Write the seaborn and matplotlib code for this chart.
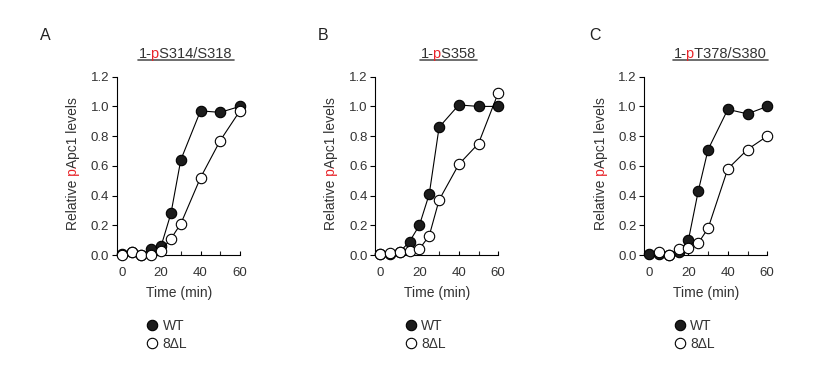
import numpy as np
import matplotlib
matplotlib.use("Agg")
import matplotlib.pyplot as plt
from matplotlib.lines import Line2D
from matplotlib.transforms import IdentityTransform, Bbox
import seaborn as sns

# time points (min)
time = [0, 5, 10, 15, 20, 25, 30, 40, 50, 60]

# panel A: 1-pS314/S318
wt_a = [0.01, 0.02, 0.00, 0.04, 0.06, 0.28, 0.64, 0.97, 0.96, 1.00]
dl_a = [0.00, 0.02, 0.00, 0.00, 0.03, 0.11, 0.21, 0.52, 0.77, 0.97]
# panel B: 1-pS358
wt_b = [0.01, 0.01, 0.02, 0.09, 0.20, 0.41, 0.86, 1.01, 1.00, 1.00]
dl_b = [0.01, 0.015, 0.02, 0.03, 0.04, 0.13, 0.37, 0.61, 0.75, 1.09]
# panel C: 1-pT378/S380
wt_c = [0.01, 0.01, 0.00, 0.02, 0.10, 0.43, 0.71, 0.98, 0.95, 1.00]
dl_c = [np.nan, 0.02, 0.00, 0.04, 0.05, 0.08, 0.18, 0.58, 0.71, 0.80]

letters = ["A", "B", "C"]
sites = ["S314/S318", "S358", "T378/S380"]
series_labels = ["WT", "8\u0394L"]

sns.set_style("ticks")
plt.rcParams["font.family"] = ["Liberation Sans", "DejaVu Sans"]

W, H = 821, 366
fig = plt.figure(figsize=(W / 100, H / 100), dpi=100)
renderer = fig.canvas.get_renderer()

TXT = "#333333"
RED = "#e8262b"
MS = 7.5
BIG = 10000


def ink_len(s, size, vertical):
    t = fig.text(0, 0, s, fontsize=size, transform=IdentityTransform(),
                 rotation=90 if vertical else 0, rotation_mode="anchor", ha="left")
    e = t.get_window_extent(renderer)
    t.remove()
    return e.height if vertical else e.width


def red_p_text(cx, cy, pre, red, post, size, vertical=False):
    # full string drawn three times, each copy clipped to its own colour zone
    full = pre + red + post
    total = ink_len(full, size, vertical)
    if vertical:
        a = ink_len(pre.rstrip(), size, vertical) + 0.7
        b = ink_len(pre + red, size, vertical) + 0.4
    else:
        a = ink_len(pre.rstrip(), size, vertical) - 0.9
        b = ink_len(pre + red, size, vertical) - 0.7
    centre = cy if vertical else cx
    start = round(centre - total / 2)
    zones = [(-BIG, start + a, TXT), (start + a, start + b, RED), (start + b, BIG, TXT)]
    for lo, hi, col in zones:
        if vertical:
            t = fig.text(cx, start, full, fontsize=size, color=col, rotation=90,
                         rotation_mode="anchor", ha="left", va="center",
                         transform=IdentityTransform())
            box = Bbox.from_extents(-BIG, lo, BIG, hi)
        else:
            t = fig.text(start, cy, full, fontsize=size, color=col, ha="left",
                         va="baseline", transform=IdentityTransform())
            box = Bbox.from_extents(lo, -BIG, hi, BIG)
        t.set_clip_box(box)
        t.set_clip_on(True)
    return start, start + total


x0_px = [121.7, 380.0, 649.0]
title_cx = [186, 449, 720]
letter_x = [45, 323, 595]
px_per_min = 1.97
y0_px, ytop_px = 255, 76.7

data = [(wt_a, dl_a), (wt_b, dl_b), (wt_c, dl_c)]

for i in range(3):
    left = x0_px[i] - 2.5 * px_per_min
    width = 63.5 * px_per_min
    ax = fig.add_axes([left / W, (H - y0_px) / H, width / W, (y0_px - ytop_px) / H])
    wt, dl = data[i]
    sns.lineplot(x=time, y=wt, ax=ax, color="black", linewidth=0.8, marker="o",
                 markersize=MS, markerfacecolor="#1c1c1c", markeredgecolor="black",
                 markeredgewidth=0.8, clip_on=False, zorder=3)
    sns.lineplot(x=time, y=dl, ax=ax, color="black", linewidth=0.8, marker="o",
                 markersize=MS, markerfacecolor="white", markeredgecolor="black",
                 markeredgewidth=0.8, clip_on=False, zorder=4)
    ax.set_xlim(-2.5, 61)
    ax.set_ylim(0, 1.2)
    ax.set_xticks([0, 20, 40, 60])
    ax.set_xticks([10, 30, 50], minor=True)
    ax.set_yticks(np.arange(0, 1.21, 0.2))
    ax.set_yticklabels([f"{v:.1f}" for v in np.arange(0, 1.21, 0.2)])
    ax.tick_params(axis="x", direction="in", length=3, width=0.8, labelsize=9.5,
                   colors="black", labelcolor=TXT, pad=9)
    ax.tick_params(axis="x", which="minor", direction="in", length=3, width=0.8)
    ax.tick_params(axis="y", direction="out", length=3.5, width=0.8, labelsize=9.5,
                   colors="black", labelcolor=TXT, pad=2)
    for s in ["top", "right"]:
        ax.spines[s].set_visible(False)
    ax.spines["left"].set_linewidth(0.8)
    ax.spines["bottom"].set_linewidth(0.8)
    ax.spines["bottom"].set_bounds(-2.5, 60)
    ax.spines["left"].set_color("black")
    ax.spines["bottom"].set_color("black")
    ax.set_xlabel("Time (min)", fontsize=10, color=TXT, labelpad=5)
    ax.set_ylabel("")
    ax.set_facecolor("none")

    # y label with red "p"
    red_p_text(x0_px[i] - 48.5, H - 164, "Relative ", "p", "Apc1 levels", 10,
               vertical=True)
    # underlined title
    a, b = red_p_text(title_cx[i], H - 58, "1-", "p", sites[i], 10.5)
    fig.add_artist(Line2D([a - 1, b + 1], [H - 59.5, H - 59.5], color="#555555",
                          linewidth=1.2, transform=IdentityTransform()))
    # panel letter
    fig.text(letter_x[i], H - 35, letters[i], fontsize=11.5, color="#222222",
             ha="center", va="center", transform=IdentityTransform())

    handles = [
        Line2D([], [], linestyle="none", marker="o", markersize=MS,
               markerfacecolor="#1c1c1c", markeredgecolor="black", markeredgewidth=0.8),
        Line2D([], [], linestyle="none", marker="o", markersize=MS,
               markerfacecolor="white", markeredgecolor="black", markeredgewidth=0.8),
    ]
    fig.legend(handles, series_labels, loc="upper left",
               bbox_to_anchor=((x0_px[i] + 25) / W, (H - 318.5) / H),
               frameon=False, fontsize=10, handlelength=0.8, handletextpad=0.35,
               labelspacing=0.32, borderpad=0, borderaxespad=0, labelcolor=TXT)

fig.savefig("out.png", dpi=100)
